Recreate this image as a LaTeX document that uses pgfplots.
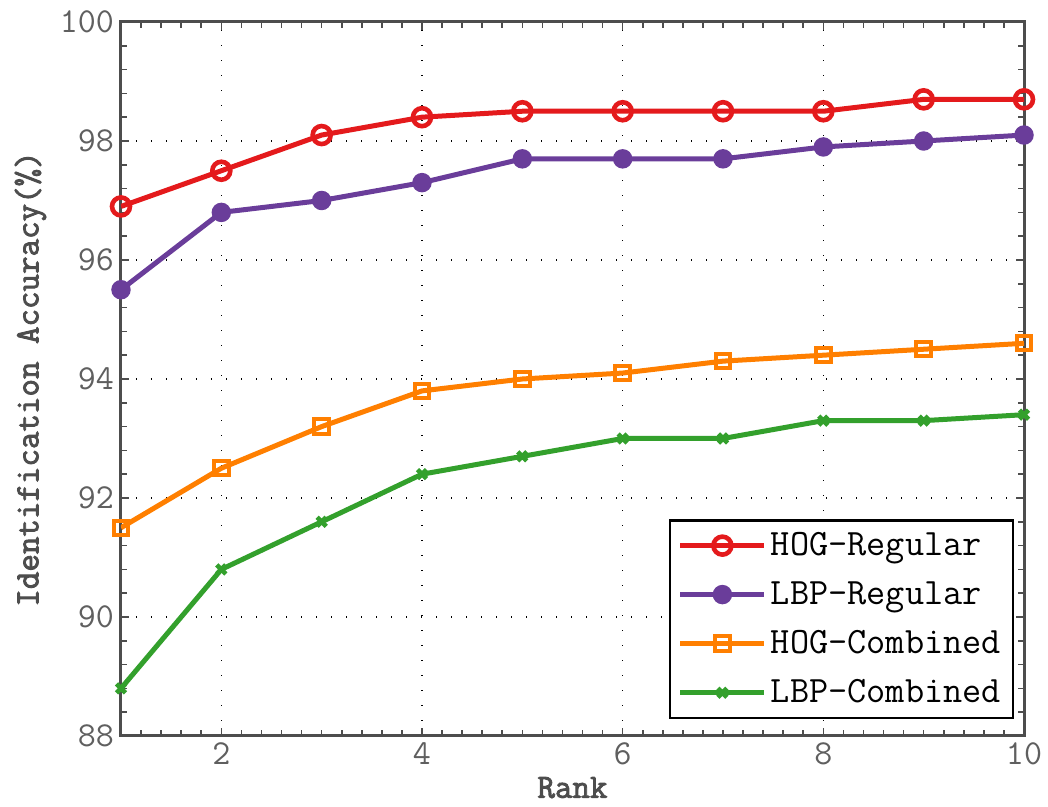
\documentclass[border=0pt]{standalone}
\usepackage{pgfplots}
\pgfplotsset{compat=1.18}
\usepackage{fontspec}
\newfontfamily\lmbold{Latin Modern Mono}[FakeBold=2.5]
\definecolor{cred}{RGB}{228,26,28}
\definecolor{cpurple}{RGB}{106,61,154}
\definecolor{corange}{RGB}{255,127,0}
\definecolor{cgreen}{RGB}{51,160,44}
\definecolor{caxis}{RGB}{77,77,77}
\definecolor{ctick}{RGB}{95,95,95}
\begin{document}
\ttfamily
\begin{tikzpicture}
\begin{axis}[
  scale only axis,
  width=451.5pt, height=357pt,
  xmin=1, xmax=10, ymin=88, ymax=100,
  xtick={2,4,6,8,10},
  ytick={88,90,...,100},
  minor xtick={1.2,1.4,1.6,1.8,2.2,2.4,2.6,2.8,3,3.2,3.4,3.6,3.8,4.2,4.4,4.6,4.8,5,5.2,5.4,5.6,5.8,6.2,6.4,6.6,6.8,7,7.2,7.4,7.6,7.8,8.2,8.4,8.6,8.8,9,9.2,9.4,9.6,9.8},
  minor ytick={88.4,88.8,89.2,89.6,90.4,90.8,91.2,91.6,92.4,92.8,93.2,93.6,94.4,94.8,95.2,95.6,96.4,96.8,97.2,97.6,98.4,98.8,99.2,99.6},
  tick align=inside,
  major tick length=4pt, minor tick length=3pt,
  every tick/.style={caxis, line width=0.8pt},
  axis line style={caxis, line width=1.5pt},
  grid=major,
  major grid style={black, line width=0.7pt, dash pattern=on 0.7pt off 6.8pt},
  /pgf/number format/assume math mode=true,
  ticklabel style={font=\ttfamily\fontsize{17.5}{20}\selectfont, text=ctick},
  xlabel={Rank},
  ylabel={Identification Accuracy(\%)},
  label style={font=\lmbold\fontsize{17}{20}\selectfont, text=caxis},
  xlabel style={yshift=1pt},
  ylabel style={yshift=0pt},
  legend cell align=left,
  legend style={at={(axis cs:10,88)}, anchor=south east, xshift=-5pt, yshift=8.5pt,
    draw=black, line width=1.2pt, fill=white, font=\ttfamily\fontsize{18.6}{21}\selectfont,
    row sep=7.5pt, inner sep=4pt},
  legend image code/.code={\draw[mark repeat=2,mark phase=2] plot coordinates {(0pt,0pt) (21pt,0pt) (42pt,0pt)};},
]
\addplot[cred, line width=2.5pt, mark=o, mark size=4.5pt, mark options={line width=2.3pt, fill=white}] coordinates {
(1,96.9)(2,97.5)(3,98.1)(4,98.4)(5,98.5)(6,98.5)(7,98.5)(8,98.5)(9,98.7)(10,98.7)};
\addlegendentry{HOG-Regular}
\addplot[cpurple, line width=2.5pt, mark=*, mark size=3.6pt, mark options={fill=cpurple}] coordinates {
(1,95.5)(2,96.8)(3,97.0)(4,97.3)(5,97.7)(6,97.7)(7,97.7)(8,97.9)(9,98.0)(10,98.1)};
\addlegendentry{LBP-Regular}
\addplot[corange, line width=2.5pt, mark=square, mark size=3.6pt, mark options={line width=2pt, fill=white}] coordinates {
(1,91.5)(2,92.5)(3,93.2)(4,93.8)(5,94.0)(6,94.1)(7,94.3)(8,94.4)(9,94.5)(10,94.6)};
\addlegendentry{HOG-Combined}
\addplot[cgreen, line width=2.5pt, mark=x, mark size=3.2pt, mark options={line width=2.3pt}] coordinates {
(1,88.8)(2,90.8)(3,91.6)(4,92.4)(5,92.7)(6,93.0)(7,93.0)(8,93.3)(9,93.3)(10,93.4)};
\addlegendentry{LBP-Combined}
\end{axis}
\pgfresetboundingbox
\path ([shift={(-60.5pt,-35.5pt)}]current axis.south west) rectangle ([shift={(12pt,11pt)}]current axis.north east);
\end{tikzpicture}
\end{document}
